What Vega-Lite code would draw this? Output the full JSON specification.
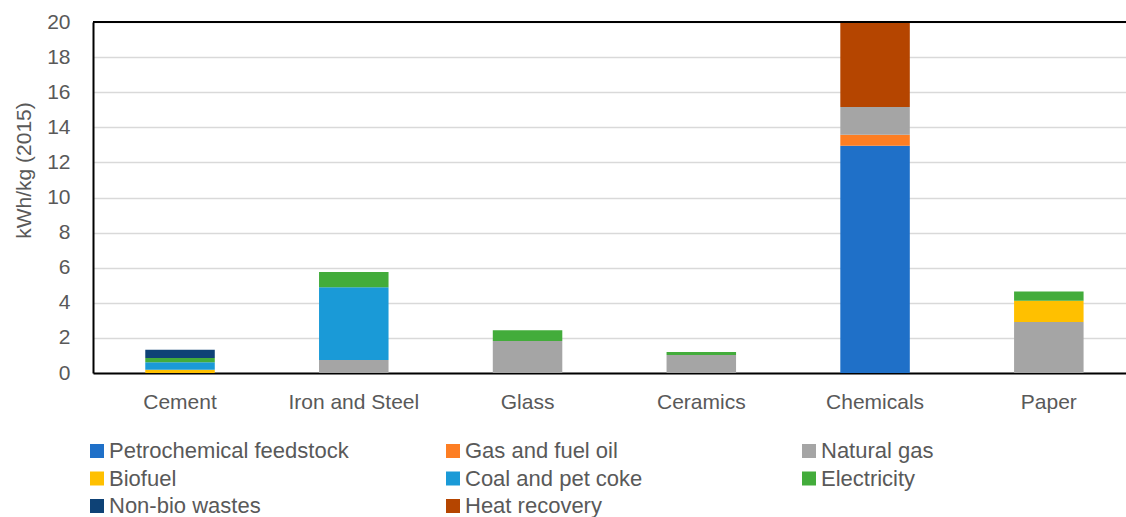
{
  "$schema": "https://vega.github.io/schema/vega-lite/v6.json",
  "width": 1033,
  "height": 351,
  "autosize": {"type": "none"},
  "padding": {"left": 93, "top": 22, "right": 0, "bottom": 144},
  "background": "white",
  "config": {
    "view": {"stroke": null},
    "font": "Liberation Sans",
    "axis": {"labelColor": "#595959", "titleColor": "#595959", "labelFont": "Liberation Sans", "titleFont": "Liberation Sans"},
    "legend": {"labelFont": "Liberation Sans"}
  },
  "data": {
    "values": [
      {"category": "Cement", "source": "Biofuel", "k": 4, "value": 0.19},
      {"category": "Cement", "source": "Coal and pet coke", "k": 5, "value": 0.42},
      {"category": "Cement", "source": "Electricity", "k": 6, "value": 0.25},
      {"category": "Cement", "source": "Non-bio wastes", "k": 7, "value": 0.46},
      {"category": "Iron and Steel", "source": "Natural gas", "k": 3, "value": 0.74},
      {"category": "Iron and Steel", "source": "Coal and pet coke", "k": 5, "value": 4.14},
      {"category": "Iron and Steel", "source": "Electricity", "k": 6, "value": 0.87},
      {"category": "Glass", "source": "Natural gas", "k": 3, "value": 1.82},
      {"category": "Glass", "source": "Electricity", "k": 6, "value": 0.61},
      {"category": "Ceramics", "source": "Natural gas", "k": 3, "value": 1.03},
      {"category": "Ceramics", "source": "Electricity", "k": 6, "value": 0.17},
      {"category": "Chemicals", "source": "Petrochemical feedstock", "k": 1, "value": 12.95},
      {"category": "Chemicals", "source": "Gas and fuel oil", "k": 2, "value": 0.63},
      {"category": "Chemicals", "source": "Natural gas", "k": 3, "value": 1.58},
      {"category": "Chemicals", "source": "Heat recovery", "k": 8, "value": 4.84},
      {"category": "Paper", "source": "Natural gas", "k": 3, "value": 2.9},
      {"category": "Paper", "source": "Biofuel", "k": 4, "value": 1.21},
      {"category": "Paper", "source": "Electricity", "k": 6, "value": 0.54}
    ]
  },
  "resolve": {"axis": {"y": "independent"}},
  "layer": [
    {
      "mark": {"type": "bar"},
      "encoding": {
        "x": {
          "field": "category",
          "type": "nominal",
          "sort": ["Cement", "Iron and Steel", "Glass", "Ceramics", "Chemicals", "Paper"],
          "scale": {"paddingInner": 0.6, "paddingOuter": 0.2725, "align": 0.552},
          "axis": {
            "title": null,
            "labelAngle": 0,
            "labelFontSize": 21,
            "labelPadding": 18,
            "ticks": false,
            "domainColor": "black",
            "domainWidth": 2,
            "grid": false
          }
        },
        "y": {
          "field": "value",
          "type": "quantitative",
          "stack": "zero",
          "scale": {"domain": [0, 20], "nice": false},
          "axis": {
            "title": "kWh/kg (2015)",
            "values": [0, 2, 4, 6, 8, 10, 12, 14, 16, 18, 20],
            "labelOverlap": false,
            "labelFontSize": 21,
            "labelPadding": 23,
            "ticks": false,
            "domainColor": "black",
            "domainWidth": 2,
            "gridColor": "#D9D9D9",
            "gridWidth": 1.5,
            "titleFontSize": 21,
            "titleFontWeight": "normal",
            "titleAngle": -90,
            "titleX": -69,
            "titleY": 148,
            "titleAlign": "center",
            "titleBaseline": "middle"
          }
        },
        "color": {
          "field": "source",
          "type": "nominal",
          "scale": {
            "domain": ["Petrochemical feedstock", "Gas and fuel oil", "Natural gas", "Biofuel", "Coal and pet coke", "Electricity", "Non-bio wastes", "Heat recovery"],
            "range": ["#1F70C8", "#FD7E23", "#A5A5A5", "#FFC000", "#1A9AD7", "#43AC3B", "#0E4276", "#B54500"]
          },
          "legend": {
            "orient": "none",
            "direction": "horizontal",
            "legendX": -7,
            "legendY": 418,
            "title": null,
            "columns": 3,
            "columnPadding": 93,
            "rowPadding": 5.5,
            "gridAlign": "all",
            "padding": 0,
            "labelFontSize": 22,
            "labelColor": "#595959",
            "labelOffset": 1,
            "labelLimit": 400,
            "symbolType": "square",
            "symbolSize": 196,
            "symbolStrokeWidth": 0
          }
        },
        "order": {"field": "k", "type": "quantitative"}
      }
    },
    {
      "data": {"values": [{"top": 20}]},
      "mark": {"type": "rule", "color": "black", "strokeWidth": 2},
      "encoding": {"y": {"field": "top", "type": "quantitative", "axis": null}}
    }
  ]
}
